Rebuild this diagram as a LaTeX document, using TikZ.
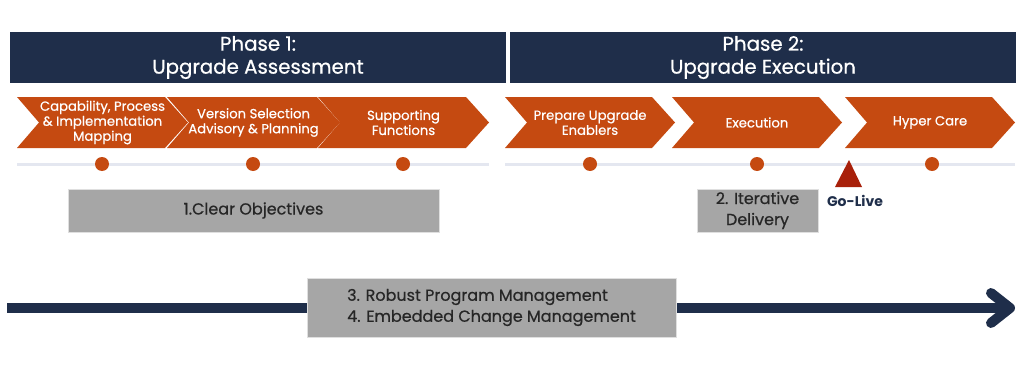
\documentclass[tikz,border=0pt]{standalone}
\usepackage{fontspec}
\setmainfont{Poppins}
\newfontfamily\medfont{Poppins}[FakeBold=0.6]
\definecolor{navy}{HTML}{1F2E4A}
\definecolor{rust}{HTML}{C54A11}
\definecolor{golive}{HTML}{A8200A}
\definecolor{railgray}{HTML}{E4E7F0}
\definecolor{boxgray}{HTML}{A6A6A6}
\begin{document}
\begin{tikzpicture}[x=1pt,y=-1pt,
  header/.style={fill=navy, text=white, align=center, inner sep=0pt,
    font=\medfont\fontsize{19.8}{23}\selectfont},
  steptext/.style={text=white, align=center, inner sep=0pt,
    font=\medfont\fontsize{13.2}{15}\selectfont},
  dot/.style={circle, fill=rust, minimum size=14pt, inner sep=0pt},
  graybox/.style={fill=boxgray, draw=gray!25, line width=0.8pt, text=black!85,
    inner sep=0pt, font=\medfont\fontsize{16}{21}\selectfont}]

\useasboundingbox (0,0) rectangle (1024,369);

% ===== Phase headers =====
\node[header, minimum width=496pt, minimum height=51pt] (phaseone) at (258,57.5)
  {Phase 1:\\Upgrade Assessment};
\node[header, minimum width=506pt, minimum height=51pt] (phasetwo) at (763,57.5)
  {Phase 2:\\Upgrade Execution};

% ===== Chevron steps: left edge / tip / name / label =====
\foreach \l/\r/\name/\txt in {
    17/188/capmap/{Capability, Process\\\& Implementation\\Mapping},
    167/340/version/{Version Selection\\Advisory \& Planning},
    318/489/support/{Supporting\\Functions},
    505/675/prepare/{Prepare Upgrade\\Enablers},
    672/842/execute/{Execution},
    845/1015/hyper/{Hyper Care}} {
  \fill[rust] (\l,97) -- (\r-23,97) -- (\r,122.5) -- (\r-23,148)
    -- (\l,148) -- (\l+22,122.5) -- cycle;
  \node[steptext] (\name) at ({(\l+\r)/2},122.5) {\txt};
}

% ===== Timeline rails and milestone dots =====
\draw[railgray, line width=3pt] (17,164) -- (489,164);
\draw[railgray, line width=3pt] (505,164) -- (1015,164);
\foreach \x/\name in {102/dotone, 253/dottwo, 403/dotthree,
                      590/dotfour, 757/dotfive, 932/dotsix}
  \node[dot] (\name) at (\x,164) {};

% Go-Live marker
\fill[golive] (849,160) -- (862,187) -- (835,187) -- cycle;
\node[text=navy, font=\bfseries\fontsize{14}{16}\selectfont] (golabel) at (855,201)
  {Go-Live};

% ===== Principles =====
\node[graybox, minimum width=371pt, minimum height=43pt] (objectives) at (253.5,210.5)
  {1.Clear Objectives};
\node[graybox, align=center, minimum width=121pt, minimum height=43pt] (iterative)
  at (757.5,210.5) {2. Iterative\\Delivery};

% Program-wide arrow
\coordinate (arrowstart) at (7,308);
\coordinate (arrowend) at (1010,308);
\draw[navy, line width=10pt] (arrowstart) -- (arrowend);
\draw[navy, line width=10pt, line cap=round, line join=round]
  (991,293) -- (arrowend) -- (991,323);
\node[graybox, align=left, minimum width=369pt, minimum height=59pt] (management)
  at (491.5,307.5) {3. Robust Program Management\\4. Embedded Change Management};

\end{tikzpicture}
\end{document}
